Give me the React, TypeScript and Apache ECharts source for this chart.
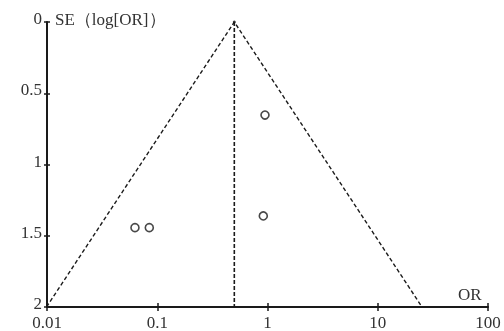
import React, { useEffect, useRef } from "react";
import * as echarts from "echarts";

const studyOR = [0.0628, 0.0847, 0.916, 0.949];
const studySE = [1.443, 1.443, 1.361, 0.653];
const pooledOR = 0.5;
const funnelOR = [0.0099, 0.5, 25.2];
const funnelSE = [2, 0, 2];
const xTicks = [0.01, 0.1, 1, 10, 100];
const yTicks = [0, 0.5, 1, 1.5, 2];

const FONT = "'Liberation Serif', 'DejaVu Serif', serif";
const INK = "#1a1a1a";
const LABEL = "#333";

export default function App() {
  const ref = useRef<HTMLDivElement>(null);
  useEffect(() => {
    if (!ref.current) return;
    const chart = echarts.init(ref.current, undefined, { renderer: "svg" });
    const gridDef = { left: 47, right: 16, top: 22, bottom: 24 };
    const xBase = {
      type: "log" as const,
      logBase: 10,
      min: xTicks[0],
      max: xTicks[xTicks.length - 1],
      splitLine: { show: false },
      minorTick: { show: false },
    };
    const yBase = {
      type: "value" as const,
      inverse: true,
      min: yTicks[0],
      max: yTicks[yTicks.length - 1],
      interval: 0.5,
      splitLine: { show: false },
    };
    chart.setOption({
      animation: false,
      grid: gridDef,
      xAxis: [
        {
          ...xBase,
          position: "bottom",
          axisLine: { show: true, onZero: false, lineStyle: { color: INK, width: 2 } },
          axisTick: { show: true, length: 4, lineStyle: { color: INK, width: 1.5 } },
          axisLabel: {
            color: LABEL,
            fontFamily: FONT,
            fontSize: 17,
            margin: 7,
            formatter: (v: number) => String(v),
          },
        },
        {
          ...xBase,
          position: "bottom",
          axisLine: { show: false, onZero: false },
          axisTick: { show: true, inside: true, length: 4, lineStyle: { color: INK, width: 1.5 } },
          axisLabel: { show: false },
        },
      ],
      yAxis: [
        {
          ...yBase,
          position: "left",
          axisLine: { show: true, onZero: false, lineStyle: { color: INK, width: 2 } },
          axisTick: { show: true, length: 3, lineStyle: { color: INK, width: 1.5 } },
          axisLabel: {
            color: LABEL,
            fontFamily: FONT,
            fontSize: 17,
            margin: 5,
            verticalAlign: "bottom",
            lineHeight: 7,
            formatter: (v: number) => String(v),
          },
        },
        {
          ...yBase,
          position: "left",
          axisLine: { show: false, onZero: false },
          axisTick: { show: true, inside: true, length: 3, lineStyle: { color: INK, width: 1.5 } },
          axisLabel: { show: false },
        },
      ],
      graphic: [
        {
          type: "text",
          left: 55,
          top: 11,
          style: { text: "SE（log[OR]）", font: `17px ${FONT}`, fill: LABEL },
        },
        {
          type: "text",
          left: 458,
          top: 286,
          style: { text: "OR", font: `17px ${FONT}`, fill: LABEL },
        },
      ],
      series: [
        {
          type: "line",
          data: funnelOR.map((x, i) => [x, funnelSE[i]]),
          symbol: "none",
          lineStyle: { color: INK, width: 1.4, type: [4, 2.5] },
          silent: true,
        },
        {
          type: "line",
          data: [
            [pooledOR, yTicks[0]],
            [pooledOR, yTicks[yTicks.length - 1]],
          ],
          symbol: "none",
          lineStyle: { color: INK, width: 1.6, type: [4, 2] },
          silent: true,
        },
        {
          type: "scatter",
          data: [[pooledOR, 0]],
          symbol: "circle",
          symbolSize: 3,
          itemStyle: { color: INK },
        },
        {
          type: "scatter",
          data: studyOR.map((x, i) => [x, studySE[i]]),
          symbol: "circle",
          symbolSize: 8,
          itemStyle: { color: "#fff", borderColor: INK, borderWidth: 1.6 },
        },
      ],
    });
    return () => chart.dispose();
  }, []);
  return (
    <div
      ref={ref}
      style={{ position: "fixed", left: 0, top: 0, width: 504, height: 331 }}
    />
  );
}
